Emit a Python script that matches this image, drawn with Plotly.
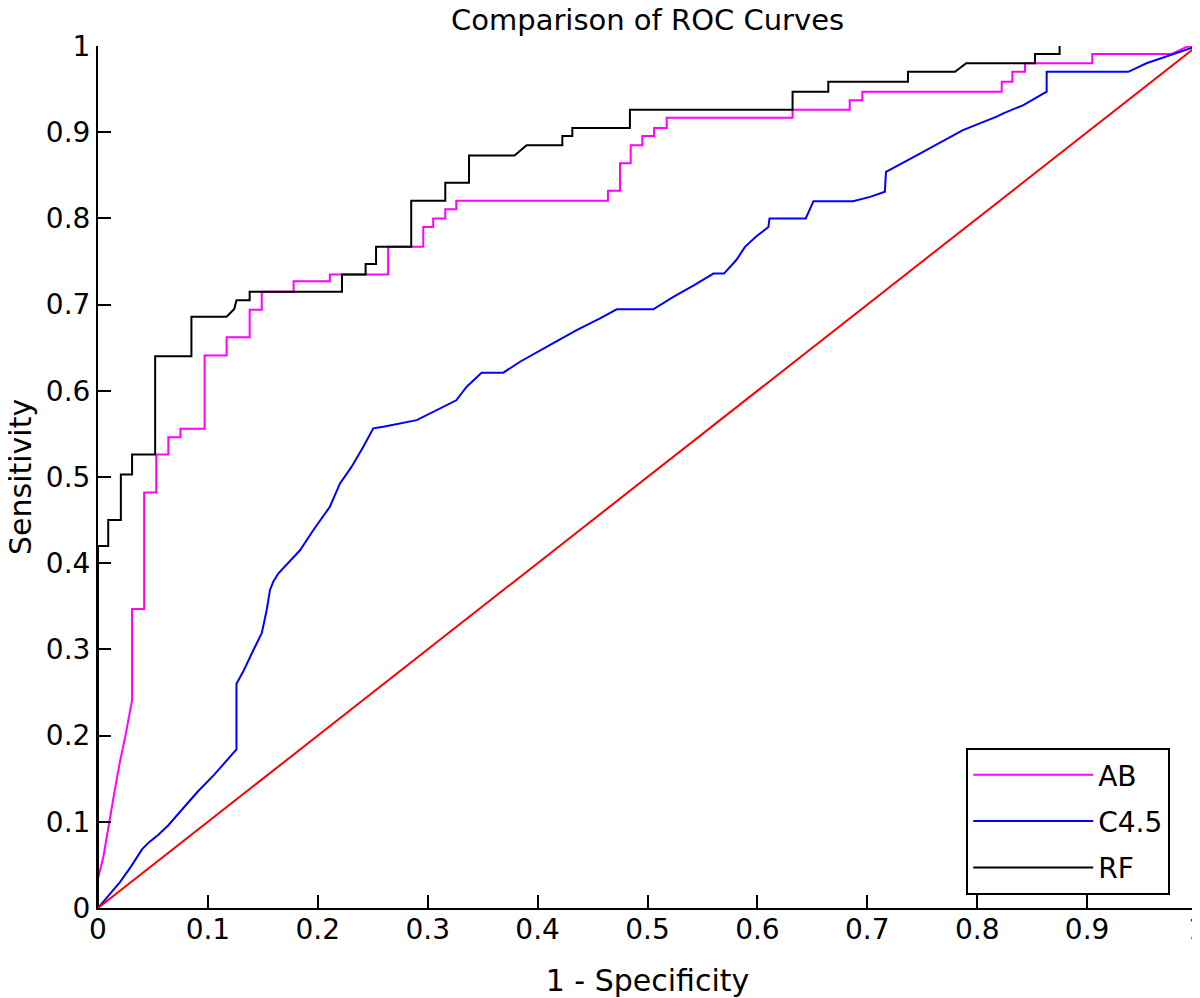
import plotly.graph_objects as go

# ---------------- data ----------------
rf_fpr = [0, 0, 0.0093, 0.0093, 0.0208, 0.0208, 0.031, 0.031, 0.052, 0.052, 0.085, 0.085,
          0.117, 0.12, 0.124, 0.126, 0.138, 0.138, 0.222, 0.222, 0.2435, 0.2435, 0.253, 0.253,
          0.285, 0.285, 0.316, 0.316, 0.3376, 0.3376, 0.379, 0.390, 0.4225, 0.4225, 0.4316, 0.4316,
          0.484, 0.484, 0.632, 0.632, 0.6645, 0.6645, 0.737, 0.737, 0.7798, 0.790, 0.8526, 0.8526,
          0.875, 0.875]
rf_tpr = [0, 0.42, 0.42, 0.45, 0.45, 0.503, 0.503, 0.526, 0.526, 0.64, 0.64, 0.686,
          0.686, 0.69, 0.695, 0.705, 0.705, 0.715, 0.715, 0.735, 0.735, 0.747, 0.747, 0.767,
          0.767, 0.8205, 0.8205, 0.8415, 0.8415, 0.873, 0.873, 0.885, 0.885, 0.8956, 0.8956, 0.905,
          0.905, 0.926, 0.926, 0.947, 0.947, 0.9586, 0.9586, 0.970, 0.970, 0.98, 0.98, 0.9907,
          0.9907, 1.0]

ab_fpr = [0, 0, 0.005, 0.01, 0.015, 0.02, 0.025, 0.031, 0.031, 0.042, 0.042, 0.053, 0.053,
          0.064, 0.064, 0.075, 0.075, 0.097, 0.097, 0.117, 0.117, 0.138, 0.138, 0.149, 0.149,
          0.178, 0.178, 0.211, 0.211, 0.264, 0.264, 0.296, 0.296, 0.305, 0.305, 0.316, 0.316,
          0.326, 0.326, 0.464, 0.464, 0.475, 0.475, 0.4847, 0.4847, 0.4953, 0.4953, 0.506, 0.506,
          0.5175, 0.5175, 0.632, 0.632, 0.684, 0.684, 0.6955, 0.6955, 0.8223, 0.8223, 0.832, 0.832,
          0.8435, 0.8435, 0.9047, 0.9047, 0.977, 0.9906, 1.0]
ab_tpr = [0, 0.034, 0.06, 0.10, 0.135, 0.17, 0.2, 0.241, 0.347, 0.347, 0.482, 0.482, 0.526,
          0.526, 0.546, 0.546, 0.556, 0.556, 0.641, 0.641, 0.662, 0.662, 0.694, 0.694, 0.715,
          0.715, 0.727, 0.727, 0.735, 0.735, 0.767, 0.767, 0.79, 0.79, 0.80, 0.80, 0.8105,
          0.8105, 0.8205, 0.8205, 0.832, 0.832, 0.864, 0.864, 0.885, 0.885, 0.8956, 0.8956, 0.905,
          0.905, 0.9168, 0.9168, 0.926, 0.926, 0.937, 0.937, 0.947, 0.947, 0.9586, 0.9586, 0.970,
          0.970, 0.98, 0.98, 0.9907, 0.9907, 0.999, 1.0]

c45_fpr = [0, 0.01, 0.02, 0.03, 0.04, 0.047, 0.055, 0.064, 0.09, 0.106, 0.126, 0.126, 0.132,
           0.1413, 0.149, 0.1535, 0.1565, 0.1595, 0.164, 0.1838, 0.196, 0.211, 0.2202, 0.2308,
           0.2414, 0.2505, 0.2596, 0.29, 0.305, 0.326, 0.3355, 0.349, 0.3688, 0.384, 0.411,
           0.4355, 0.4568, 0.472, 0.5053, 0.5235, 0.5417, 0.56, 0.5696, 0.581, 0.5887, 0.5994,
           0.61, 0.611, 0.644, 0.651, 0.687, 0.7025, 0.716, 0.717, 0.742, 0.763, 0.787, 0.8177,
           0.8237, 0.842, 0.8632, 0.8632, 0.9375, 0.954, 0.977, 0.9985, 1.0]
c45_tpr = [0, 0.015, 0.03, 0.048, 0.068, 0.077, 0.085, 0.096, 0.134, 0.155, 0.184, 0.26, 0.274,
           0.299, 0.3187, 0.3457, 0.369, 0.3785, 0.388, 0.415, 0.4385, 0.4655, 0.4926, 0.512,
           0.535, 0.5565, 0.5584, 0.566, 0.5758, 0.589, 0.6048, 0.621, 0.621, 0.6337, 0.653,
           0.6705, 0.684, 0.6945, 0.6945, 0.709, 0.722, 0.736, 0.736, 0.752, 0.767, 0.7796,
           0.79, 0.80, 0.80, 0.820, 0.820, 0.825, 0.831, 0.854, 0.871, 0.886, 0.9025, 0.918,
           0.9218, 0.9315, 0.947, 0.97, 0.97, 0.98, 0.99, 1.0, 1.0]

chance_x = [0, 1]
chance_y = [0, 1]

tick_vals = [0, 0.1, 0.2, 0.3, 0.4, 0.5, 0.6, 0.7, 0.8, 0.9, 1]
tick_text = ["0", "0.1", "0.2", "0.3", "0.4", "0.5", "0.6", "0.7", "0.8", "0.9", "1"]

title_text = "Comparison of ROC Curves"
x_title = "1 - Specificity"
y_title = "Sensitivity"

FONT = "DejaVu Sans"

fig = go.Figure()
fig.add_trace(go.Scatter(x=ab_fpr, y=ab_tpr, mode="lines", name="AB", legendgroup="ab",
                         line=dict(color="#ff00ff", width=2)))
fig.add_trace(go.Scatter(x=c45_fpr, y=c45_tpr, mode="lines", name="C4.5", legendgroup="c45",
                         line=dict(color="#0000ff", width=2)))
fig.add_trace(go.Scatter(x=rf_fpr, y=rf_tpr, mode="lines", name="RF", legendgroup="rf",
                         line=dict(color="#000000", width=2)))
fig.add_trace(go.Scatter(x=chance_x, y=chance_y, mode="lines", showlegend=False,
                         line=dict(color="#ff0000", width=2)))

axis_common = dict(
    range=[0, 1], tickvals=tick_vals, ticktext=tick_text,
    showline=True, linecolor="black", linewidth=2,
    ticks="inside", ticklen=13, tickwidth=2, tickcolor="black",
    showgrid=False, zeroline=False, mirror=False, automargin=False,
    ticklabeloverflow="allow",
    tickfont=dict(family=FONT, size=28, color="black"),
)

# The page body adds an 8px offset, so the figure is 8px smaller than the window.
fig.update_layout(
    width=1192, height=990,
    margin=dict(l=90, r=3, t=38, b=90),
    paper_bgcolor="white", plot_bgcolor="white",
    font=dict(family=FONT, size=28, color="black"),
    xaxis=dict(**axis_common, ticklabelstandoff=-5,
               title=dict(text=x_title, font=dict(family=FONT, size=30), standoff=25)),
    yaxis=dict(**axis_common),
    showlegend=True,
    legend=dict(x=0.79, y=0.1856, xanchor="left", yanchor="top",
                bordercolor="black", borderwidth=2, bgcolor="white",
                font=dict(family=FONT, size=28, color="black"),
                itemwidth=120, tracegroupgap=7),
    annotations=[
        dict(text=title_text, xref="paper", yref="paper", x=0.5, y=1.0302,
             xanchor="center", yanchor="middle", showarrow=False,
             font=dict(family=FONT, size=29, color="black")),
        dict(text=y_title, xref="paper", yref="paper", x=-0.071, y=0.5,
             xanchor="center", yanchor="middle", textangle=-90, showarrow=False,
             font=dict(family=FONT, size=30, color="black")),
    ],
)

fig.write_html("out.html")
